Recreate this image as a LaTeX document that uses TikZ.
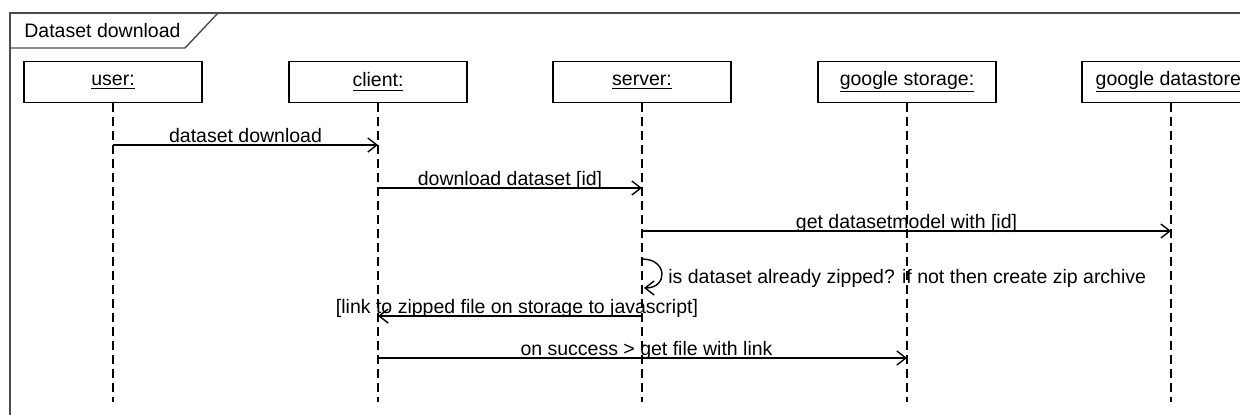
\documentclass[tikz,border=0pt]{standalone}
\usepackage{fontspec}
\setmainfont{Liberation Sans}
\usetikzlibrary{arrows.meta}
\begin{document}
\begin{tikzpicture}[x=0.5pt,y=-0.5pt,
  txt/.style={font=\fontsize{9.75}{11}\selectfont, inner sep=0pt},
  obj/.style={draw, line width=0.75pt, minimum width=89pt, minimum height=20.5pt, inner sep=0pt, txt},
  life/.style={line width=0.6pt, dash pattern=on 4.5pt off 2.5pt},
  frame/.style={draw=black!70, line width=1pt},
  msg/.style={line width=0.7pt, -{Straight Barb[length=4.5pt,width=7pt,line width=0.7pt]}},
  lbl/.style={txt, anchor=base, yshift=1.25pt},
]
\useasboundingbox (0,0) rectangle (1240,414);
% frame
\draw[frame] (10,430) -- (10,13) -- (1260,13);
\node[txt, anchor=base west] (title) at (24,37) {Dataset download};
\draw[frame, line width=0.7pt] (10,48) -- (185,48) -- (218,13);

% objects
\node[obj] (user) at (113,82) {\underline{user:}};
\node[obj] (client) at (378,82) {\underline{client:}};
\node[obj] (server) at (642,82) {\underline{server:}};
\node[obj] (storage) at (907,82) {\underline{google storage:}};
\node[obj] (datastore) at (1171,82) {\underline{google datastore:}};

% lifeline ends
\coordinate (uE) at (user.south |- 0,402);
\coordinate (cE) at (client.south |- 0,402);
\coordinate (sE) at (server.south |- 0,402);
\coordinate (gE) at (storage.south |- 0,402);
\coordinate (dE) at (datastore.south |- 0,402);
\foreach \o/\e in {user/uE, client/cE, server/sE, storage/gE, datastore/dE}
  \draw[life] (\o.south) -- (\e);

% message points
\coordinate (m1a) at (user.south |- 0,145);
\coordinate (m1b) at (client.south |- 0,145);
\coordinate (m2a) at (client.south |- 0,188);
\coordinate (m2b) at (server.south |- 0,188);
\coordinate (m3a) at (server.south |- 0,231);
\coordinate (m3b) at (datastore.south |- 0,231);
\coordinate (m4a) at (server.south |- 0,259);
\coordinate (m4b) at ([xshift=1pt]server.south |- 0,288);
\coordinate (m5a) at (server.south |- 0,316);
\coordinate (m5b) at (client.south |- 0,316);
\coordinate (m6a) at (client.south |- 0,358);
\coordinate (m6b) at (storage.south |- 0,358);

\draw[msg] (m1a) -- node[lbl] {dataset download} (m1b);
\draw[msg] (m2a) -- node[lbl] {download dataset [id]} (m2b);
\draw[msg] (m3a) -- node[lbl] {get datasetmodel with [id]} (m3b);
\draw[msg] (m4a) .. controls ([xshift=13pt]m4a) and ([xshift=12pt]m4b) .. (m4b);
\node[txt, anchor=base west] (selflbl) at (668,283) {is dataset already zipped? if not then create zip archive};
\draw[msg] (m5a) -- node[lbl, xshift=3.5pt] {[link to zipped file on storage to javascript]} (m5b);
\draw[msg] (m6a) -- node[lbl, xshift=2pt] {on success > get file with link} (m6b);
\end{tikzpicture}
\end{document}
